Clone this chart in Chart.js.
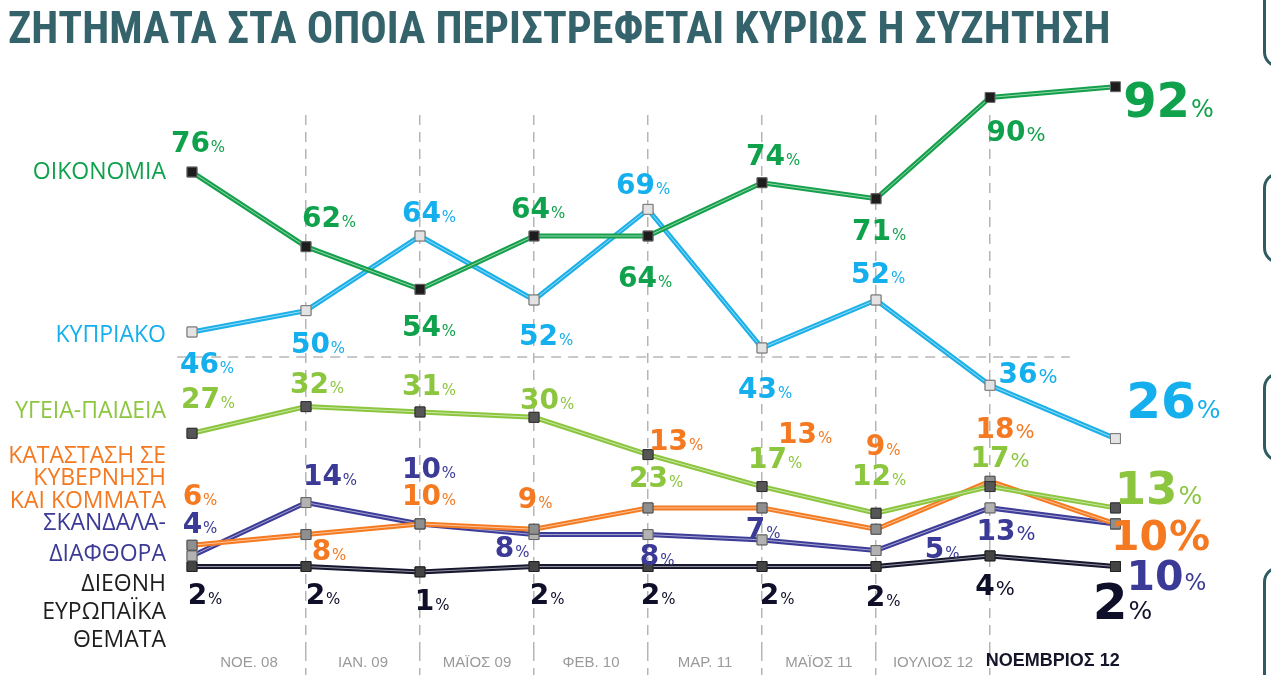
<!DOCTYPE html>
<html>
<head>
<meta charset="utf-8">
<script src="https://cdn.jsdelivr.net/npm/chart.js@4.4.1/dist/chart.umd.min.js"></script>
<style>
    html, body { margin: 0; padding: 0; background: #fff; overflow: hidden; }
    #wrap { position: relative; width: 1271px; height: 675px; }
    .tab { position: absolute; left: 1263px; width: 60px; border: 3px solid #2f5c63; border-radius: 16px; box-sizing: border-box; }
</style>
</head>
<body>
<div id="wrap">
    <canvas id="chartTemas" width="1271" height="675"></canvas>
    <div class="tab" style="top:-30px;height:98px"></div>
    <div class="tab" style="top:172px;height:92px"></div>
    <div class="tab" style="top:372px;height:90px"></div>
    <div class="tab" style="top:566px;height:150px"></div>
</div>
<script>
const titleText = "ΖΗΤΗΜΑΤΑ ΣΤΑ ΟΠΟΙΑ ΠΕΡΙΣΤΡΕΦΕΤΑΙ ΚΥΡΙΩΣ Η ΣΥΖΗΤΗΣΗ";
const periods = ["ΝΟΕ. 08", "ΙΑΝ. 09", "ΜΑΪΟΣ 09", "ΦΕΒ. 10", "ΜΑΡ. 11", "ΜΑΪΟΣ 11", "ΙΟΥΛΙΟΣ 12", "ΝΟΕΜΒΡΙΟΣ 12"];
const surveyX = [0, 1, 2, 3, 4, 5, 6, 7, 8.1];

const oikonomia = [76, 62, 54, 64, 64, 74, 71, 90, 92];
const kypriako = [46, 50, 64, 52, 69, 43, 52, 36, 26];
const ygeiaPaideia = [27, 32, 31, 30, 23, 17, 12, 17, 13];
const katastasi = [6, 8, 10, 9, 13, 13, 9, 18, 10];
const skandala = [4, 14, 10, 8, 8, 7, 5, 13, 10];
const diethni = [2, 2, 1, 2, 2, 2, 2, 4, 2];

const seriesNames = [
    ["ΟΙΚΟΝΟΜΙΑ"],
    ["ΚΥΠΡΙΑΚΟ"],
    ["ΥΓΕΙΑ-ΠΑΙΔΕΙΑ"],
    ["ΚΑΤΑΣΤΑΣΗ ΣΕ", "ΚΥΒΕΡΝΗΣΗ", "ΚΑΙ ΚΟΜΜΑΤΑ"],
    ["ΣΚΑΝΔΑΛΑ-", "ΔΙΑΦΘΟΡΑ"],
    ["ΔΙΕΘΝΗ", "ΕΥΡΩΠΑΪΚΑ", "ΘΕΜΑΤΑ"],
];

const condensed = '"Roboto Condensed", "Liberation Sans Narrow", "DejaVu Sans Condensed", "Arial Narrow", sans-serif';
const nameFont = '"Open Sans", "Noto Sans", sans-serif';
const labelFont = '"DejaVu Sans", Verdana, sans-serif';
const tickFont = '"Liberation Sans", Arial, sans-serif';

// estilo de cada serie
const series = [
    { values: oikonomia, color: "#15a04c", text: "#0fa14b", fill: "#1d1d1d", edge: "#666" },
    { values: kypriako, color: "#1cb0e8", text: "#14afec", fill: "#e3e3e3", edge: "#7a7a7a" },
    { values: ygeiaPaideia, color: "#8cc63f", text: "#8cc63f", fill: "#565656", edge: "#333" },
    { values: katastasi, color: "#f47b22", text: "#f47920", fill: "#8f8f8f", edge: "#555" },
    { values: skandala, color: "#3d3c98", text: "#3b3a96", fill: "#b2b2b2", edge: "#666" },
    { values: diethni, color: "#17172f", text: "#0f0f2a", fill: "#444", edge: "#222" },
];

// posicion de cada etiqueta respecto a su punto
const labelOffsets = [
    [[6, -30], [23, -30], [9, 36], [4, -28], [-3, 41], [11, -28], [3, 31], [26, 33], [53, 13]],
    [[15, 31], [12, 32], [9, -24], [12, 35], [-5, -26], [3, 40], [2, -27], [38, -13], [58, -39]],
    [[16, -35], [11, -24], [9, -27], [13, -18], [8, 22], [13, -29], [3, -38], [10, -30], [43, -20]],
    [[8, -50], [23, 15], [9, -29], [1, -31], [28, -68], [43, -75], [7, -84], [15, -53], [45, 11]],
    [[8, -33], [24, -28], [9, -56], [-22, 12], [9, 20], [1, -12], [66, -3], [16, 22], [51, 51]],
    [[13, 27], [17, 27], [12, 28], [13, 27], [10, 27], [15, 27], [7, 29], [5, 29], [7, 34]],
];
const lastNumSize = [48, 50, 45, 41, 41, 50];
const lastPctSize = [24, 25, 25, 41, 23, 25];
const nameLayout = [
    { y: 172, gap: 0 },
    { y: 335, gap: 0 },
    { y: 411, gap: 0 },
    { y: 456, gap: 22.5 },
    { y: 523, gap: 31 },
    { y: 584, gap: 28 },
];

// ticks del eje x: etiquetas entre encuestas, lineas en las encuestas intermedias
const labelTicks = periods.map((p, i) => (surveyX[i] + surveyX[i + 1]) / 2);
const lineTicks = surveyX.slice(1, -1);
const allTicks = labelTicks.concat(lineTicks).sort((a, b) => a - b);

const probe = document.createElement("canvas").getContext("2d");
probe.font = "bold 40px " + condensed;
const titleSize = Math.min(46, Math.round((40 * 1112) / probe.measureText(titleText).width));

const chartCanvas = document.getElementById("chartTemas");

const stripes = {
    id: "stripes",
    afterDatasetDraw(chart, args) {
        const ctx = chart.ctx;
        const pts = args.meta.data;
        ctx.save();
        ctx.strokeStyle = "rgba(255,255,255,0.55)";
        ctx.lineWidth = 1;
        ctx.beginPath();
        pts.forEach((p, i) => (i ? ctx.lineTo(p.x, p.y) : ctx.moveTo(p.x, p.y)));
        ctx.stroke();
        pts.forEach((p) => p.draw(ctx));
        ctx.restore();
    },
};

const separator = {
    id: "separator",
    beforeDatasetsDraw(chart) {
        const { ctx, scales } = chart;
        const y = scales.y.getPixelForValue(41.3);
        ctx.save();
        ctx.strokeStyle = "#b8b8b8";
        ctx.lineWidth = 1.5;
        ctx.setLineDash([10, 7]);
        ctx.beginPath();
        ctx.moveTo(scales.x.getPixelForValue(-0.13), y);
        ctx.lineTo(scales.x.getPixelForValue(7.7), y);
        ctx.stroke();
        ctx.restore();
    },
};

const valueLabels = {
    id: "valueLabels",
    afterDatasetsDraw(chart) {
        const ctx = chart.ctx;
        ctx.save();
        ctx.textAlign = "left";
        ctx.textBaseline = "alphabetic";
        series.forEach((s, si) => {
            const meta = chart.getDatasetMeta(si);
            meta.data.forEach((pt, i) => {
                const last = i === s.values.length - 1;
                const numSize = last ? lastNumSize[si] : 28;
                const pctSize = last ? lastPctSize[si] : i === 7 ? 20 : 15;
                const num = String(s.values[i]);
                ctx.font = "bold " + numSize + "px " + labelFont;
                const wNum = ctx.measureText(num).width;
                const pctFont = (pctSize === numSize ? "bold " : "") + pctSize + "px " + labelFont;
                ctx.font = pctFont;
                const wPct = ctx.measureText("%").width;
                const [dx, dy] = labelOffsets[si][i];
                const x0 = pt.x + dx - (wNum + wPct + 1) / 2;
                const base = pt.y + dy + numSize * 0.365;
                ctx.fillStyle = s.text;
                ctx.font = "bold " + numSize + "px " + labelFont;
                ctx.fillText(num, x0, base);
                ctx.font = pctFont;
                ctx.fillText("%", x0 + wNum + 1, base);
            });
        });
        ctx.restore();
    },
    afterDraw(chart) {
        const ctx = chart.ctx;
        ctx.save();
        ctx.textAlign = "right";
        ctx.textBaseline = "middle";
        ctx.font = "23px " + nameFont;
        seriesNames.forEach((lines, si) => {
            ctx.fillStyle = si === 5 ? "#1e1e1e" : series[si].text;
            lines.forEach((line, li) => {
                ctx.fillText(line, 166, nameLayout[si].y + li * nameLayout[si].gap);
            });
        });
        ctx.restore();
    },
};

const datasets = series.map((s) => ({
    data: s.values.map((v, i) => ({ x: surveyX[i], y: v })),
    borderColor: s.color,
    borderWidth: 5,
    pointStyle: "rect",
    pointRadius: 7,
    pointBorderWidth: 1,
    pointBackgroundColor: s.fill,
    pointBorderColor: s.edge,
    tension: 0,
    clip: false,
}));

const config = {
    type: "line",
    data: { datasets: datasets },
    options: {
        responsive: false,
        animation: false,
        events: [],
        layout: {
            padding: { left: 8, right: 20, top: 0, bottom: 24 },
        },
        plugins: {
            legend: { display: false },
            tooltip: { enabled: false },
            title: {
                display: true,
                text: titleText,
                align: "start",
                color: "#35636b",
                font: { family: condensed, size: titleSize, weight: "bold", lineHeight: 1.2 },
                padding: { top: 6, bottom: 115 - 6 - titleSize * 1.2 },
            },
        },
        scales: {
            x: {
                type: "linear",
                min: -1.614,
                max: 9.289,
                afterBuildTicks: (scale) => {
                    scale.ticks = allTicks.map((v) => ({ value: v }));
                },
                grid: {
                    color: (ctx) => (ctx.tick && lineTicks.includes(ctx.tick.value) ? "#b5b5b5" : "rgba(0,0,0,0)"),
                    lineWidth: 1.5,
                    drawTicks: true,
                    tickLength: 35,
                    tickBorderDash: [10, 7],
                },
                border: { display: false, dash: [10, 7] },
                ticks: {
                    autoSkip: false,
                    maxRotation: 0,
                    mirror: true,
                    padding: -21,
                    callback: (value) => {
                        const idx = labelTicks.indexOf(value);
                        return idx >= 0 ? periods[idx] : "";
                    },
                    color: (ctx) => (ctx.tick && ctx.tick.label === periods[periods.length - 1] ? "#15152a" : "#9a9a9a"),
                    font: (ctx) =>
                        ctx.tick && ctx.tick.label === periods[periods.length - 1]
                            ? { family: tickFont, size: 18, weight: "bold" }
                            : { family: tickFont, size: 15 },
                },
            },
            y: {
                display: false,
                min: -13.84,
                max: 86.7,
            },
        },
    },
    plugins: [separator, stripes, valueLabels],
};

const chartTemas = new Chart(chartCanvas, config);
</script>
</body>
</html>
